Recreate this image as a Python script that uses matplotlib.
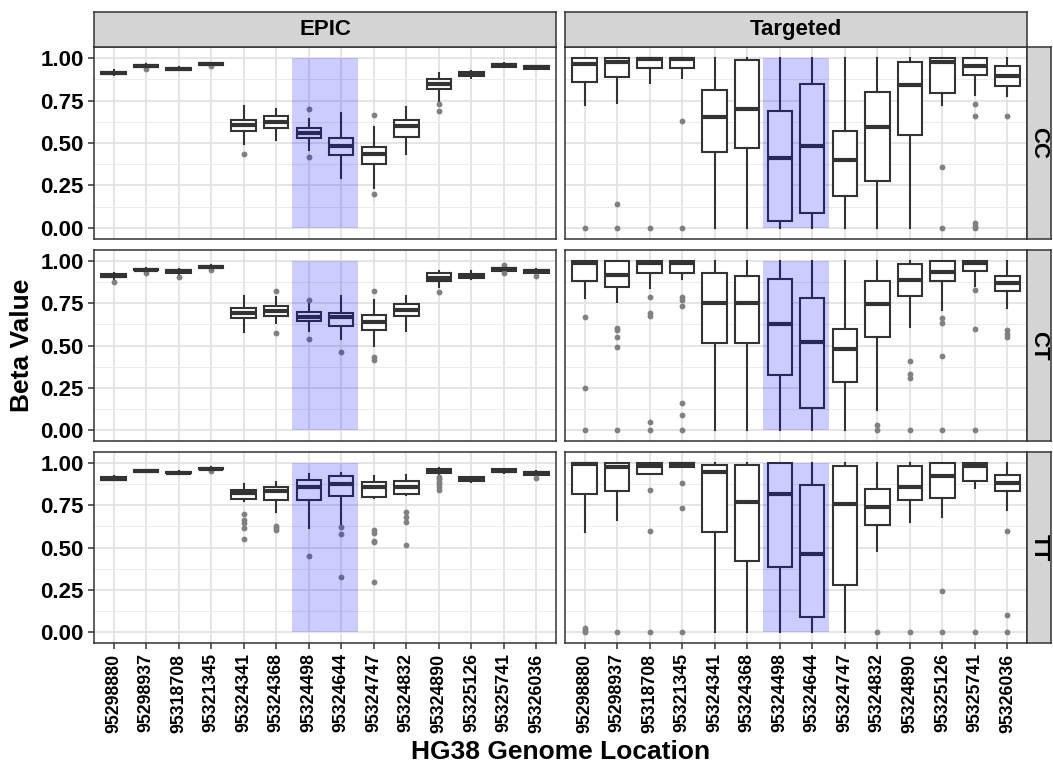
import matplotlib
matplotlib.use("Agg")
import matplotlib.pyplot as plt
from matplotlib.patches import Rectangle

plt.rcParams["font.family"] = ["Liberation Sans", "DejaVu Sans"]
plt.rcParams["font.weight"] = "bold"

# categories / facets
locations = ["95298880", "95298937", "95318708", "95321345", "95324341",
             "95324368", "95324498", "95324644", "95324747", "95324832",
             "95324890", "95325126", "95325741", "95326036"]
platforms = ["EPIC", "Targeted"]
genotypes = ["CC", "CT", "TT"]
highlight = ["95324498", "95324644"]

# box stats: (low whisker, q1, median, q3, high whisker)
epic_cc = [(0.898, 0.906, 0.913, 0.920, 0.928), (0.945, 0.950, 0.955, 0.960, 0.963),
           (0.928, 0.932, 0.936, 0.941, 0.945), (0.957, 0.961, 0.965, 0.969, 0.972),
           (0.495, 0.569, 0.604, 0.637, 0.719), (0.520, 0.589, 0.624, 0.661, 0.700),
           (0.458, 0.530, 0.559, 0.589, 0.641), (0.292, 0.427, 0.481, 0.530, 0.676),
           (0.238, 0.374, 0.433, 0.476, 0.596), (0.433, 0.534, 0.602, 0.637, 0.711),
           (0.739, 0.817, 0.846, 0.879, 0.914), (0.881, 0.893, 0.904, 0.916, 0.922),
           (0.945, 0.949, 0.957, 0.967, 0.970), (0.934, 0.938, 0.945, 0.953, 0.956)]
epic_cc_out = [[], [0.938], [], [0.953], [0.437], [], [0.70, 0.419], [],
               [0.663, 0.197], [], [0.729, 0.688], [], [], []]

targ_cc = [(0.721, 0.858, 0.963, 1.0, 1.0), (0.735, 0.891, 0.975, 1.0, 1.0),
           (0.852, 0.940, 0.992, 1.0, 1.0), (0.881, 0.940, 0.994, 1.0, 1.0),
           (0.0, 0.448, 0.651, 0.811, 1.0), (0.0, 0.468, 0.702, 0.990, 1.0),
           (0.0, 0.039, 0.413, 0.690, 1.0), (0.0, 0.090, 0.481, 0.850, 1.0),
           (0.0, 0.191, 0.402, 0.569, 1.0), (0.0, 0.279, 0.593, 0.801, 1.0),
           (0.0, 0.548, 0.842, 0.979, 1.0), (0.721, 0.797, 0.979, 1.0, 1.0),
           (0.780, 0.900, 0.953, 1.0, 1.0), (0.774, 0.838, 0.895, 0.953, 1.0)]
targ_cc_out = [[0.0], [0.14, 0.0], [0.0], [0.632, 0.0], [], [], [], [], [], [], [],
               [0.359, 0.0], [0.731, 0.659, 0.027, 0.014, 0.0], [0.661]]

epic_ct = [(0.895, 0.903, 0.912, 0.921, 0.930), (0.940, 0.944, 0.949, 0.955, 0.958),
           (0.925, 0.931, 0.940, 0.948, 0.952), (0.955, 0.960, 0.967, 0.972, 0.975),
           (0.577, 0.661, 0.692, 0.721, 0.793), (0.634, 0.676, 0.706, 0.735, 0.786),
           (0.585, 0.645, 0.671, 0.698, 0.747), (0.540, 0.618, 0.669, 0.694, 0.793),
           (0.497, 0.591, 0.639, 0.680, 0.770), (0.587, 0.676, 0.711, 0.747, 0.793),
           (0.844, 0.879, 0.897, 0.926, 0.938), (0.893, 0.899, 0.910, 0.922, 0.938),
           (0.935, 0.943, 0.953, 0.961, 0.968), (0.920, 0.928, 0.938, 0.947, 0.952)]
epic_ct_out = [[0.875], [0.926], [0.903], [0.945], [], [0.823, 0.573], [0.772, 0.536],
               [0.462], [0.821, 0.431, 0.415], [], [0.815], [], [0.975, 0.93], [0.914]]

targ_ct = [(0.782, 0.879, 0.988, 1.0, 1.0), (0.760, 0.844, 0.920, 1.0, 1.0),
           (0.840, 0.928, 0.988, 1.0, 1.0), (0.893, 0.928, 0.988, 1.0, 1.0),
           (0.0, 0.515, 0.752, 0.928, 1.0), (0.0, 0.515, 0.754, 0.910, 1.0),
           (0.0, 0.326, 0.626, 0.891, 1.0), (0.0, 0.133, 0.520, 0.780, 1.0),
           (0.0, 0.287, 0.478, 0.595, 1.0), (0.119, 0.552, 0.743, 0.879, 1.0),
           (0.610, 0.795, 0.889, 0.981, 1.0), (0.711, 0.879, 0.934, 1.0, 1.0),
           (0.854, 0.938, 0.988, 1.0, 1.0), (0.721, 0.825, 0.867, 0.910, 1.0)]
targ_ct_out = [[0.671, 0.25, 0.0], [0.606, 0.59, 0.55, 0.489, 0.0],
               [0.786, 0.692, 0.672, 0.049, 0.0], [0.789, 0.77, 0.731, 0.16, 0.09, 0.0],
               [], [], [], [], [], [0.029, 0.0], [0.407, 0.333, 0.308, 0.0],
               [0.661, 0.634, 0.439, 0.0], [0.83, 0.60, 0.0], [0.59, 0.567, 0.552]]

epic_tt = [(0.900, 0.902, 0.908, 0.918, 0.925), (0.945, 0.947, 0.951, 0.957, 0.960),
           (0.935, 0.939, 0.943, 0.949, 0.952), (0.960, 0.962, 0.967, 0.973, 0.975),
           (0.775, 0.785, 0.822, 0.843, 0.877), (0.710, 0.783, 0.834, 0.855, 0.888),
           (0.613, 0.779, 0.857, 0.900, 0.932), (0.636, 0.804, 0.873, 0.924, 0.939),
           (0.790, 0.798, 0.857, 0.888, 0.924), (0.810, 0.818, 0.857, 0.892, 0.928),
           (0.935, 0.941, 0.955, 0.965, 0.968), (0.890, 0.896, 0.906, 0.916, 0.920),
           (0.942, 0.945, 0.955, 0.963, 0.966), (0.925, 0.928, 0.939, 0.949, 0.952)]
epic_tt_out = [[], [], [], [0.955], [0.697, 0.661, 0.642, 0.618, 0.548],
               [0.626, 0.613, 0.603], [0.448], [0.624, 0.581, 0.327],
               [0.603, 0.583, 0.540, 0.530, 0.294], [0.708, 0.681, 0.648, 0.517],
               [0.92, 0.906, 0.89, 0.877, 0.86, 0.838], [], [], [0.91]]

targ_tt = [(0.591, 0.819, 0.994, 1.0, 1.0), (0.663, 0.832, 0.975, 1.0, 1.0),
           (0.936, 0.936, 0.984, 1.0, 1.0), (0.975, 0.975, 0.994, 1.0, 1.0),
           (0.0, 0.589, 0.945, 0.990, 1.0), (0.0, 0.421, 0.770, 0.990, 1.0),
           (0.0, 0.384, 0.815, 1.0, 1.0), (0.0, 0.088, 0.460, 0.867, 1.0),
           (0.0, 0.279, 0.760, 0.984, 1.0), (0.481, 0.632, 0.737, 0.844, 1.0),
           (0.653, 0.780, 0.856, 0.980, 1.0), (0.682, 0.791, 0.924, 1.0, 1.0),
           (0.854, 0.893, 0.984, 1.0, 1.0), (0.721, 0.832, 0.881, 0.930, 1.0)]
targ_tt_out = [[0.023, 0.01, 0.0], [0.0], [0.84, 0.60, 0.0], [0.881, 0.731, 0.0],
               [], [], [], [], [], [0.0], [0.0], [0.24, 0.0], [0.0], [0.60, 0.101, 0.0]]

panels = {("CC", "EPIC"): (epic_cc, epic_cc_out), ("CC", "Targeted"): (targ_cc, targ_cc_out),
          ("CT", "EPIC"): (epic_ct, epic_ct_out), ("CT", "Targeted"): (targ_ct, targ_ct_out),
          ("TT", "EPIC"): (epic_tt, epic_tt_out), ("TT", "Targeted"): (targ_tt, targ_tt_out)}

W, H = 1053, 763
fig = plt.figure(figsize=(W / 100, H / 100), dpi=100)
dark = "#333333"
strip_bg = "#d4d4d4"


def px_axes(x0, y0, x1, y1):
    # pixel box (from top-left) -> figure axes
    return fig.add_axes([x0 / W, 1 - y1 / H, (x1 - x0) / W, (y1 - y0) / H])


cols = [(94, 556), (565, 1027)]
rows = [(47, 239), (250, 441), (452, 643)]
pos = list(range(1, len(locations) + 1))
hl = [locations.index(h) + 1 for h in highlight]

for r, g in enumerate(genotypes):
    for c, p in enumerate(platforms):
        ax = px_axes(cols[c][0], rows[r][0], cols[c][1], rows[r][1])
        data, outs = panels[(g, p)]
        stats = []
        for (lo, q1, med, q3, hi), fl in zip(data, outs):
            stats.append(dict(whislo=lo, q1=q1, med=med, q3=q3, whishi=hi, fliers=fl))
        ax.bxp(stats, positions=pos, widths=0.75, showcaps=False, patch_artist=True,
               boxprops=dict(facecolor="white", edgecolor=dark, linewidth=1.5),
               medianprops=dict(color=dark, linewidth=3.0, solid_capstyle="butt"),
               whiskerprops=dict(color=dark, linewidth=1.5),
               flierprops=dict(marker="o", markerfacecolor="#808080",
                               markeredgecolor="none", markersize=4.2),
               manage_ticks=False)
        ax.add_patch(Rectangle((hl[0] - 0.5, 0), hl[-1] - hl[0] + 1, 1,
                               facecolor="blue", alpha=0.2, edgecolor="none", zorder=5))
        ax.set_xlim(0.4, len(locations) + 0.6)
        ax.set_ylim(-0.065, 1.065)
        ax.set_xticks(pos)
        ax.set_yticks([0, 0.25, 0.5, 0.75, 1.0])
        ax.set_yticks([0.125, 0.375, 0.625, 0.875], minor=True)
        ax.set_axisbelow(True)
        ax.grid(which="major", color="#e3e3e3", linewidth=1.3)
        ax.grid(which="minor", axis="y", color="#ececec", linewidth=0.7)
        for s in ax.spines.values():
            s.set_color(dark)
            s.set_linewidth(1.1)
        ax.tick_params(which="minor", length=0)
        ax.tick_params(which="major", color=dark, length=4, width=1.1)
        if c == 0:
            ax.set_yticklabels(["0.00", "0.25", "0.50", "0.75", "1.00"],
                               fontsize=16, fontweight="bold", color="black")
        else:
            ax.tick_params(axis="y", left=False, labelleft=False)
        if r == len(genotypes) - 1:
            ax.set_xticklabels(locations, rotation=90, fontsize=12.8,
                               fontweight="bold", color="black")
        else:
            ax.tick_params(axis="x", bottom=False, labelbottom=False)

        # strips
        if r == 0:
            sx = px_axes(cols[c][0], 12, cols[c][1], 47)
            sx.set_facecolor(strip_bg)
            sx.set_xticks([])
            sx.set_yticks([])
            for s in sx.spines.values():
                s.set_color(dark)
                s.set_linewidth(1.1)
            sx.text(0.5, 0.5, p, ha="center", va="center", fontsize=16,
                    fontweight="bold", transform=sx.transAxes)
        if c == len(platforms) - 1:
            sy = px_axes(1027, rows[r][0], 1051, rows[r][1])
            sy.set_facecolor(strip_bg)
            sy.set_xticks([])
            sy.set_yticks([])
            for s in sy.spines.values():
                s.set_color(dark)
                s.set_linewidth(1.1)
            sy.text(0.5, 0.5, g, ha="center", va="center", fontsize=16,
                    fontweight="bold", rotation=-90, transform=sy.transAxes)

fig.text(22 / W, 1 - 345 / H, "Beta Value", rotation=90, ha="center", va="center",
         fontsize=19, fontweight="bold")
fig.text(561 / W, 1 - 752 / H, "HG38 Genome Location", ha="center", va="center",
         fontsize=19, fontweight="bold")

fig.savefig("out.png", dpi=100)
